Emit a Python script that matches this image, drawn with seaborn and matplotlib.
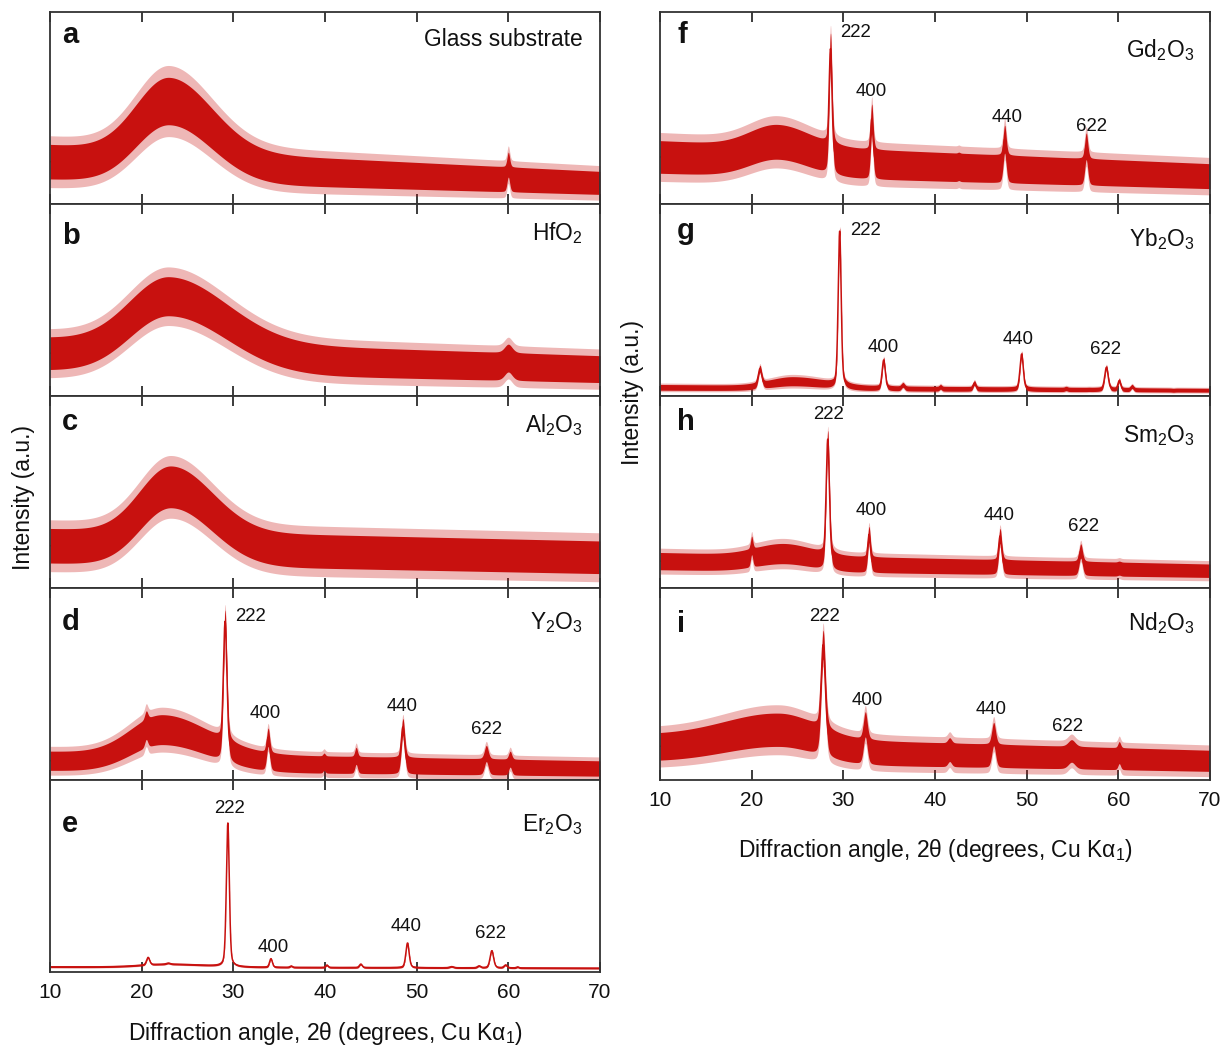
import numpy as np
import pandas as pd
import matplotlib
matplotlib.use("Agg")
import matplotlib.pyplot as plt
import seaborn as sns

sns.set_theme(style="white")
plt.rcParams['font.family'] = ['Liberation Sans', 'DejaVu Sans']
plt.rcParams['mathtext.default'] = 'regular'

RED = '#c8110f'

# ---- XRD patterns (intensity in panel-height units) ----
panel_letters = ['a', 'b', 'c', 'd', 'e', 'f', 'g', 'h', 'i']
sample_names = ['Glass substrate', 'HfO$_2$', 'Al$_2$O$_3$', 'Y$_2$O$_3$', 'Er$_2$O$_3$',
                'Gd$_2$O$_3$', 'Yb$_2$O$_3$', 'Sm$_2$O$_3$', 'Nd$_2$O$_3$']

# linear background level at 10 and 70 degrees
baseline_left = [0.22, 0.22, 0.22, 0.10, 0.027, 0.245, 0.045, 0.14, 0.165]
baseline_right = [0.11, 0.14, 0.16, 0.06, 0.020, 0.145, 0.030, 0.09, 0.10]
# amorphous glass hump
hump_center = [23.0, 23.0, 23.2, 22.3, 23.0, 22.8, 24.5, 23.5, 23.0]
hump_height = [0.34, 0.317, 0.32, 0.17, 0.015, 0.10, 0.035, 0.05, 0.11]
hump_sigma_left = [3.6, 4.3, 3.4, 3.5, 3.0, 3.0, 2.5, 3.0, 6.0]
hump_sigma_right = [4.65, 6.3, 4.5, 5.0, 4.0, 3.5, 3.5, 3.0, 4.0]
# half-width of the counting-noise band
noise_left = [0.09, 0.085, 0.09, 0.05, 0.004, 0.085, 0.015, 0.045, 0.07]
noise_right = [0.06, 0.07, 0.085, 0.04, 0.004, 0.065, 0.010, 0.035, 0.055]
noise_hump = [0.04, 0.02, 0.02, 0.03, 0.0, 0.01, 0.01, 0.01, 0.02]

# Bragg reflections: position (2theta), top of trace, FWHM
peak_pos = [
    [60.0],
    [60.0],
    [],
    [20.5, 29.1, 33.8, 39.9, 43.4, 48.5, 57.6, 60.2],
    [20.7, 22.9, 29.4, 34.1, 36.3, 40.2, 43.9, 49.0, 53.8, 56.8, 58.2, 59.7, 61.0],
    [28.6, 33.1, 42.6, 47.6, 56.5],
    [20.9, 29.6, 34.4, 36.5, 40.6, 44.3, 49.45, 54.3, 56.8, 58.7, 60.1, 61.5, 66.0],
    [20.0, 28.3, 32.8, 47.1, 55.9, 60.1],
    [27.8, 32.4, 41.6, 46.4, 54.9, 60.1],
]
peak_top = [
    [0.27],
    [0.27],
    [],
    [0.36, 0.885, 0.27, 0.14, 0.17, 0.32, 0.18, 0.15],
    [0.08, 0.05, 0.78, 0.073, 0.035, 0.04, 0.045, 0.155, 0.032, 0.035, 0.115, 0.04, 0.03],
    [0.89, 0.52, 0.27, 0.41, 0.37],
    [0.16, 0.875, 0.20, 0.07, 0.06, 0.08, 0.23, 0.05, 0.045, 0.16, 0.09, 0.06, 0.04],
    [0.27, 0.82, 0.32, 0.31, 0.23, 0.14],
    [0.78, 0.355, 0.22, 0.30, 0.21, 0.20],
]
peak_fwhm = [
    [0.35],
    [1.0],
    [],
    [0.4, 0.45, 0.4, 0.3, 0.35, 0.45, 0.5, 0.4],
    [0.4, 0.5, 0.38, 0.35, 0.3, 0.3, 0.35, 0.42, 0.5, 0.4, 0.45, 0.4, 0.3],
    [0.38, 0.35, 0.3, 0.4, 0.4],
    [0.45, 0.38, 0.4, 0.4, 0.3, 0.35, 0.42, 0.35, 0.35, 0.45, 0.35, 0.35, 0.4],
    [0.3, 0.42, 0.35, 0.4, 0.45, 0.4],
    [0.55, 0.5, 0.5, 0.5, 0.9, 0.35],
]

# Miller-index annotations
hkl_labels = ['222', '400', '440', '622']
hkl_x = [None, None, None,
         [31.9, 33.5, 48.4, 57.6],
         [29.6, 34.3, 48.8, 58.0],
         [31.35, 33.0, 47.85, 57.05],
         [32.45, 34.3, 49.1, 58.55],
         [28.4, 33.05, 46.97, 56.2],
         [27.9, 32.6, 46.1, 54.5]]
hkl_y = [None, None, None,
         [0.854, 0.344, 0.385, 0.265],
         [0.854, 0.13, 0.236, 0.198],
         [0.894, 0.588, 0.452, 0.403],
         [0.86, 0.255, 0.295, 0.243],
         [0.905, 0.403, 0.375, 0.32],
         [0.85, 0.413, 0.365, 0.278]]

letter_y = [0.836, 0.793, 0.823, 0.78, 0.73, 0.839, 0.82, 0.823, 0.772]
name_y = [0.825, 0.813, 0.81, 0.786, 0.736, 0.766, 0.782, 0.762, 0.78]

two_theta = np.arange(10.0, 70.0001, 0.01)
x_ticks = [10, 20, 30, 40, 50, 60, 70]


def pseudo_voigt(x, x0, fwhm, eta=0.35):
    sigma = fwhm / 2.3548
    gauss = np.exp(-(x - x0) ** 2 / (2 * sigma ** 2))
    lorentz = 1.0 / (1.0 + ((x - x0) / (fwhm / 2)) ** 2)
    return eta * lorentz + (1 - eta) * gauss


def pattern(i, x):
    frac = (x - 10.0) / 60.0
    sig = np.where(x < hump_center[i], hump_sigma_left[i], hump_sigma_right[i])
    hump_shape = np.exp(-(x - hump_center[i]) ** 2 / (2 * sig ** 2))
    bg = baseline_left[i] + (baseline_right[i] - baseline_left[i]) * frac + hump_height[i] * hump_shape
    hw = noise_left[i] + (noise_right[i] - noise_left[i]) * frac + noise_hump[i] * hump_shape
    return bg, hw


W, H = 1226, 1052
fig = plt.figure(figsize=(W / 100, H / 100), dpi=100)
fig.patch.set_facecolor('white')

col_left = [50, 660]
col_w = 550
panel_tops_left = [12, 204, 396, 588, 780]
panel_tops_right = [12, 204, 396, 588]
panel_h = 192

layout = [(0, t) for t in panel_tops_left] + [(1, t) for t in panel_tops_right]

for i, (col, top) in enumerate(layout):
    ax = fig.add_axes([col_left[col] / W, 1 - (top + panel_h) / H, col_w / W, panel_h / H])
    bg, hw = pattern(i, two_theta)
    prof = bg.copy()
    for pos, tp, fw in zip(peak_pos[i], peak_top[i], peak_fwhm[i]):
        bg0, hw0 = pattern(i, np.array([pos]))
        amp = tp - hw0[0] - bg0[0]
        prof = prof + amp * pseudo_voigt(two_theta, pos, fw)

    df = pd.DataFrame({'two_theta': two_theta, 'intensity': prof})
    ax.fill_between(two_theta, prof - 1.5 * hw, prof + 1.5 * hw, color=RED, alpha=0.3, lw=0)
    ax.fill_between(two_theta, prof - hw, prof + hw, color=RED, alpha=1.0, lw=0)
    sns.lineplot(data=df, x='two_theta', y='intensity', ax=ax, color=RED,
                 lw=1.1, estimator=None, sort=False)

    ax.set_xlim(10, 70)
    ax.set_ylim(0, 1)
    ax.set_yticks([])
    ax.set_xticks(x_ticks)
    ax.set_xlabel('')
    ax.set_ylabel('')
    is_bottom = (i == 4) or (i == 8)
    ax.tick_params(axis='x', direction='in', top=True, bottom=True, length=7, width=1.2,
                   color='#1a1a1a', labelsize=15, pad=8, labelbottom=is_bottom,
                   labelcolor='#111111')
    for sp in ax.spines.values():
        sp.set_linewidth(1.3)
        sp.set_color('#333333')
        sp.set_visible(True)

    lx = 0.022 if col == 0 else 0.031
    ax.text(lx, letter_y[i], panel_letters[i], transform=ax.transAxes, fontsize=21,
            fontweight='bold', va='baseline', ha='left', color='#111111')
    nx = 0.969 if col == 0 else 0.972
    ax.text(nx, name_y[i], sample_names[i], transform=ax.transAxes, fontsize=16.4,
            va='baseline', ha='right', color='#111111')

    if hkl_x[i] is not None:
        for lab, hx, hy in zip(hkl_labels, hkl_x[i], hkl_y[i]):
            ax.text(hx, hy, lab, fontsize=13.4, ha='center', va='center', color='#111111')

    if is_bottom:
        ax.set_xlabel('Diffraction angle, 2θ (degrees, Cu Kα$_1$)', fontsize=16.5,
                      labelpad=13 if col == 0 else 19, color='#111111')

fig.text(23.5 / W, 1 - 497 / H, 'Intensity (a.u.)', rotation=90, fontsize=16.5,
         ha='center', va='center', color='#111111')
fig.text(633 / W, 1 - 392 / H, 'Intensity (a.u.)', rotation=90, fontsize=16.5,
         ha='center', va='center', color='#111111')

fig.savefig('out.png', dpi=100, facecolor='white')
